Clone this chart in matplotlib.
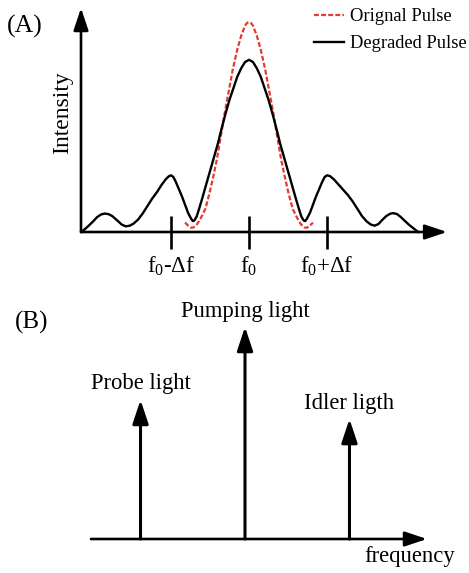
import matplotlib
matplotlib.use("Agg")
import matplotlib.pyplot as plt

plt.rcParams['font.family'] = ['Liberation Serif', 'DejaVu Serif']
plt.rcParams['mathtext.fontset'] = 'custom'
plt.rcParams['mathtext.rm'] = 'Liberation Serif'
plt.rcParams['mathtext.it'] = 'Liberation Serif:italic'

# panel (A): frequency in units of delta f around f0, intensity normalised to original peak
degraded_x = [-2.15, -2.10, -2.05, -2.00, -1.95, -1.90, -1.85, -1.80, -1.75, -1.69,
              -1.63, -1.58, -1.53, -1.48, -1.42, -1.36, -1.30, -1.24, -1.18, -1.12,
              -1.07, -1.03, -1.00, -0.97, -0.94, -0.90, -0.86, -0.82, -0.78, -0.74,
              -0.72, -0.70, -0.67, -0.64, -0.60, -0.55, -0.50, -0.45, -0.40, -0.35,
              -0.30, -0.25, -0.20, -0.15, -0.10, -0.05, 0.00,
              0.05, 0.10, 0.15, 0.20, 0.25, 0.30, 0.35, 0.40, 0.45, 0.50,
              0.55, 0.60, 0.64, 0.67, 0.70, 0.72, 0.74, 0.78, 0.82, 0.86,
              0.90, 0.94, 0.97, 1.00, 1.04, 1.09, 1.15, 1.21, 1.27, 1.33,
              1.39, 1.45, 1.51, 1.56, 1.61, 1.66, 1.71, 1.76, 1.81, 1.85,
              1.90, 1.95, 2.00, 2.05, 2.10, 2.17]
degraded_y = [0.00, 0.015, 0.032, 0.05, 0.07, 0.083, 0.088, 0.085, 0.075, 0.055,
              0.035, 0.027, 0.03, 0.04, 0.06, 0.09, 0.125, 0.16, 0.19, 0.225,
              0.25, 0.265, 0.27, 0.262, 0.24, 0.205, 0.17, 0.13, 0.09, 0.062,
              0.052, 0.055, 0.075, 0.11, 0.16, 0.225, 0.29, 0.355, 0.42, 0.495,
              0.565, 0.63, 0.685, 0.74, 0.78, 0.81, 0.82,
              0.81, 0.78, 0.74, 0.685, 0.63, 0.565, 0.495, 0.42, 0.355, 0.29,
              0.225, 0.16, 0.11, 0.075, 0.055, 0.052, 0.062, 0.09, 0.13, 0.17,
              0.205, 0.24, 0.262, 0.27, 0.266, 0.25, 0.225, 0.20, 0.175, 0.145,
              0.11, 0.075, 0.05, 0.036, 0.03, 0.038, 0.058, 0.076, 0.087, 0.09,
              0.085, 0.07, 0.052, 0.035, 0.02, 0.00]

original_x = [-0.82, -0.78, -0.74, -0.71, -0.67, -0.62, -0.56, -0.51, -0.46, -0.41,
              -0.36, -0.31, -0.26, -0.21, -0.15, -0.10, -0.05, -0.025, 0.00,
              0.025, 0.05, 0.10, 0.15, 0.21, 0.26, 0.31, 0.36, 0.41, 0.46, 0.51,
              0.56, 0.62, 0.67, 0.71, 0.74, 0.78, 0.82]
original_y = [0.045, 0.03, 0.02, 0.022, 0.035, 0.065, 0.11, 0.18, 0.26, 0.35,
              0.46, 0.57, 0.67, 0.77, 0.87, 0.935, 0.983, 0.996, 1.00,
              0.996, 0.983, 0.935, 0.87, 0.77, 0.67, 0.57, 0.46, 0.35, 0.26, 0.18,
              0.11, 0.065, 0.035, 0.022, 0.02, 0.03, 0.045]

tick_pos = [-1, 0, 1]
tick_labels = [r'f$_0$-Δf', r'f$_0$', r'f$_0$+Δf']

# panel (B): relative frequency and relative power of each line
light_freq = [-1, 0, 1]
light_power = [0.656, 1.0, 0.566]
light_names = ['Probe light', 'Pumping light', 'Idler ligth']

red = '#e53935'
W, H = 469, 573
fig = plt.figure(figsize=(W / 100, H / 100), dpi=100)

def px_axes(l, t, r, b):
    return fig.add_axes([l / W, 1 - b / H, (r - l) / W, (b - t) / H])

ax1 = px_axes(81, 8, 450, 232)
ax1.set_xlim(-2.154, 2.577)
ax1.set_ylim(0, 1.067)
ax1.axis('off')

axis_arrow = dict(arrowstyle='-|>,head_length=0.9,head_width=0.3', lw=1.9,
                  color='k', shrinkA=0, shrinkB=0, mutation_scale=15)
ax1.annotate('', xy=(2.54, 0), xytext=(-2.154, 0), arrowprops=axis_arrow,
             annotation_clip=False)
ax1.annotate('', xy=(-2.154, 1.067), xytext=(-2.154, 0), arrowprops=axis_arrow,
             annotation_clip=False)

ax1.plot(original_x, original_y, color=red, lw=1.6, ls=(0, (2.2, 1.0)),
         label='Orignal Pulse', clip_on=False, zorder=3)
ax1.plot(degraded_x, degraded_y, color='k', lw=1.7, label='Degraded Pulse',
         clip_on=False, zorder=4, solid_joinstyle='round')

ax1.vlines(tick_pos, -0.08, 0.076, color='k', lw=1.9, clip_on=False)
for p, s in zip(tick_pos, tick_labels):
    ax1.text(p, -0.195, s, ha='center', va='baseline', fontsize=16.5)

ax1.text(-0.049, 0.531, 'Intensity', rotation=90, ha='center', va='center',
         fontsize=17, transform=ax1.transAxes)

ax1.legend(loc='upper right', bbox_to_anchor=(467 / W, 1 - 8 / H),
           bbox_transform=fig.transFigure, frameon=False, fontsize=13.3,
           handlelength=1.65, handletextpad=0.33, labelspacing=0.55,
           borderpad=0, borderaxespad=0)

fig.text(25 / W, 1 - 26 / H, '(A)', ha='center', va='center', fontsize=18.5)

ax2 = px_axes(91, 300, 427, 539)
ax2.set_xlim(-1.474, 1.742)
ax2.set_ylim(0, 1.127)
ax2.axis('off')

ax2.annotate('', xy=(1.742, 0), xytext=(-1.474, 0), arrowprops=axis_arrow,
             annotation_clip=False)

light_arrow = dict(arrowstyle='-|>,head_length=0.9,head_width=0.3', lw=2.2,
                   color='k', shrinkA=0, shrinkB=0, mutation_scale=16)
for f, pw, name in zip(light_freq, light_power, light_names):
    ax2.annotate('', xy=(f, pw), xytext=(f, 0), arrowprops=light_arrow)
    ax2.annotate(name, xy=(f, pw), xytext=(0, 7.5), textcoords='offset points',
                 ha='center', va='baseline', fontsize=16.3)

ax2.text(0.949, -0.075, 'frequency', ha='center', va='center', fontsize=16.3,
         transform=ax2.transAxes)
fig.text(32 / W, 1 - 322 / H, '(B)', ha='center', va='center', fontsize=18)

fig.savefig('out.png', dpi=100)
